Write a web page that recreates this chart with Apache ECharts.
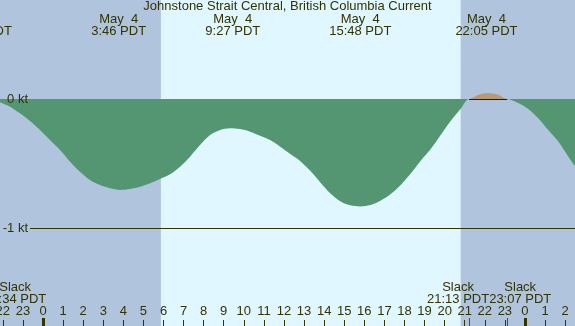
<!DOCTYPE html>
<html>
<head>
<meta charset="utf-8">
<script src="https://cdn.jsdelivr.net/npm/echarts@6/dist/echarts.min.js"></script>
<style>
html, body { margin: 0; padding: 0; }
#chart { width: 575px; height: 326px; }
</style>
</head>
<body>
<div id="chart"></div>
<script>
// hours from midnight May 4 (PDT); current in knots, negative = ebb
var hours = [-3.5, -3.0, -2.43, -2.14, -1.64, -1.15, -0.65, -0.15, 0.35, 0.85, 1.35, 1.84, 2.34, 2.84, 3.34,
    3.84, 4.33, 4.83, 5.33, 5.83, 6.33, 6.82, 7.32, 7.82, 8.32, 8.82, 9.31, 9.81, 10.31, 10.81, 11.31,
    11.8, 12.3, 12.8, 13.3, 13.8, 14.3, 14.8, 15.3, 15.8, 16.3, 16.8, 17.3, 17.8, 18.3, 18.8, 19.3,
    19.8, 20.3, 20.8, 21.22, 21.68, 22.1, 22.67, 23.12, 23.66, 24.15, 24.65, 25.15, 25.65, 26.15, 26.5, 27.0];
var knots = [0, 0.025, 0, -0.026, -0.06, -0.111, -0.171, -0.24, -0.318, -0.395, -0.486, -0.564, -0.628, -0.667, -0.692,
    -0.705, -0.698, -0.68, -0.653, -0.62, -0.584, -0.525, -0.447, -0.357, -0.279, -0.24, -0.227, -0.233, -0.253, -0.284, -0.318,
    -0.368, -0.425, -0.48, -0.555, -0.645, -0.73, -0.792, -0.824, -0.833, -0.822, -0.788, -0.738, -0.668, -0.58, -0.48, -0.39,
    -0.28, -0.17, -0.075, 0, 0.033, 0.047, 0.033, 0, -0.031, -0.075, -0.147, -0.238, -0.328, -0.444, -0.522, -0.6];

// max current events (top labels)
var eventHours = [-3.1, 3.767, 9.45, 15.8, 22.083];
var eventDays = ['May  3', 'May  4', 'May  4', 'May  4', 'May  4'];
var eventTimes = ['20:54 PDT', '3:46 PDT', '9:27 PDT', '15:48 PDT', '22:05 PDT'];

// slack water events (bottom labels)
var slackHours = [-2.433, 21.217, 23.117];
var slackTimes = ['21:34 PDT', '21:13 PDT', '23:07 PDT'];
var slackNudge = [21, -11, 13];

var nightSpans = [[-4, 5.87], [20.8, 28]];
var midnights = [0, 24];
var levelValues = [0, -1];
var levelLabels = ['0 kt', '-1 kt'];

var ink = '#333300';
var family = '"Liberation Sans", Arial, sans-serif';
var font = '13px ' + family;

var ebb = [], flood = [];
for (var i = 0; i < hours.length; i++) {
    ebb.push([hours[i], Math.min(knots[i], 0)]);
    flood.push([hours[i], Math.max(knots[i], 0)]);
}

var chart = echarts.init(document.getElementById('chart'));

var option = {
    animation: false,
    backgroundColor: '#E0F7FF',
    title: {
        text: 'Johnstone Strait Central, British Columbia Current',
        left: 'center',
        top: 0,
        padding: 0,
        textStyle: { fontSize: 13, fontWeight: 'normal', color: ink, fontFamily: family }
    },
    grid: { left: -17.24, right: -10.2, top: 0, bottom: 0, outerBoundsMode: 'none' },
    xAxis: {
        type: 'value',
        min: -3,
        max: 27,
        interval: 1,
        z: 10,
        splitLine: { show: false },
        axisLine: { show: false, onZero: false },
        axisTick: { show: true, inside: true, length: 6, lineStyle: { color: ink } },
        axisLabel: {
            inside: true,
            margin: 8,
            color: ink,
            fontSize: 13,
            fontFamily: family,
            formatter: function (v) { return String(((v % 24) + 24) % 24); }
        }
    },
    yAxis: {
        type: 'value',
        min: -(326 - 99) / 129,
        max: 99 / 129,
        show: false
    },
    series: [
        {
            type: 'line',
            z: 0,
            data: [[hours[0], 0]],
            showSymbol: false,
            lineStyle: { opacity: 0 },
            silent: true,
            markArea: {
                silent: true,
                itemStyle: { color: '#B0C4DE' },
                data: nightSpans.map(function (s) { return [{ xAxis: s[0] }, { xAxis: s[1] }]; })
            }
        },
        {
            name: 'flood',
            type: 'line',
            z: 2,
            data: flood,
            smooth: 0.3,
            showSymbol: false,
            lineStyle: { width: 0 },
            areaStyle: { color: '#BB9977', opacity: 1 },
            markLine: {
                silent: true,
                symbol: ['none', 'none'],
                label: { show: false },
                lineStyle: { color: '#222200', width: 1, type: 'solid' },
                data: [[{ coord: [slackHours[1], 0] }, { coord: [slackHours[2], 0] }]]
            }
        },
        {
            name: 'ebb',
            type: 'line',
            z: 3,
            data: ebb,
            smooth: 0.3,
            showSymbol: false,
            lineStyle: { width: 0 },
            areaStyle: { color: '#539671', opacity: 1 }
        }
    ]
};
chart.setOption(option);

// labels and small marks that hang off the axes
var graphics = [];
function txt(x, y, s, align) {
    return {
        type: 'text', x: x, y: y, silent: true, z: 10,
        style: { text: s, fill: ink, font: font, align: align || 'center', verticalAlign: 'middle' }
    };
}
var xStart = chart.convertFromPixel({ xAxisIndex: 0 }, 30);
for (var k = 0; k < levelValues.length; k++) {
    var py = chart.convertToPixel({ yAxisIndex: 0 }, levelValues[k]);
    graphics.push(txt(28, py, levelLabels[k], 'right'));
}
for (var e = 0; e < eventHours.length; e++) {
    var ex = chart.convertToPixel({ xAxisIndex: 0 }, eventHours[e]);
    graphics.push(txt(ex, 19, eventDays[e]));
    graphics.push(txt(ex, 31.5, eventTimes[e]));
}
for (var s = 0; s < slackHours.length; s++) {
    var sx = chart.convertToPixel({ xAxisIndex: 0 }, slackHours[s]);
    graphics.push(txt(sx + slackNudge[s], 287.5, 'Slack'));
    graphics.push(txt(sx + slackNudge[s], 299.5, slackTimes[s]));
    var rx = Math.round(sx) + 0.5;
    graphics.push({ type: 'line', silent: true, z: 10, shape: { x1: rx, y1: 318, x2: rx, y2: 326 }, style: { stroke: '#FF0000', lineWidth: 1 } });
}
for (var m = 0; m < midnights.length; m++) {
    var mx = chart.convertToPixel({ xAxisIndex: 0 }, midnights[m]);
    graphics.push({ type: 'rect', silent: true, z: 10, shape: { x: Math.round(mx) - 1, y: 318, width: 3, height: 8 }, style: { fill: ink } });
}

chart.setOption({
    graphic: graphics,
    series: [{}, {}, {
        markLine: {
            silent: true,
            symbol: ['none', 'none'],
            label: { show: false },
            lineStyle: { color: ink, width: 1, type: 'solid' },
            data: [[{ coord: [xStart, -1] }, { coord: [27, -1] }]]
        }
    }]
});
</script>
</body>
</html>
